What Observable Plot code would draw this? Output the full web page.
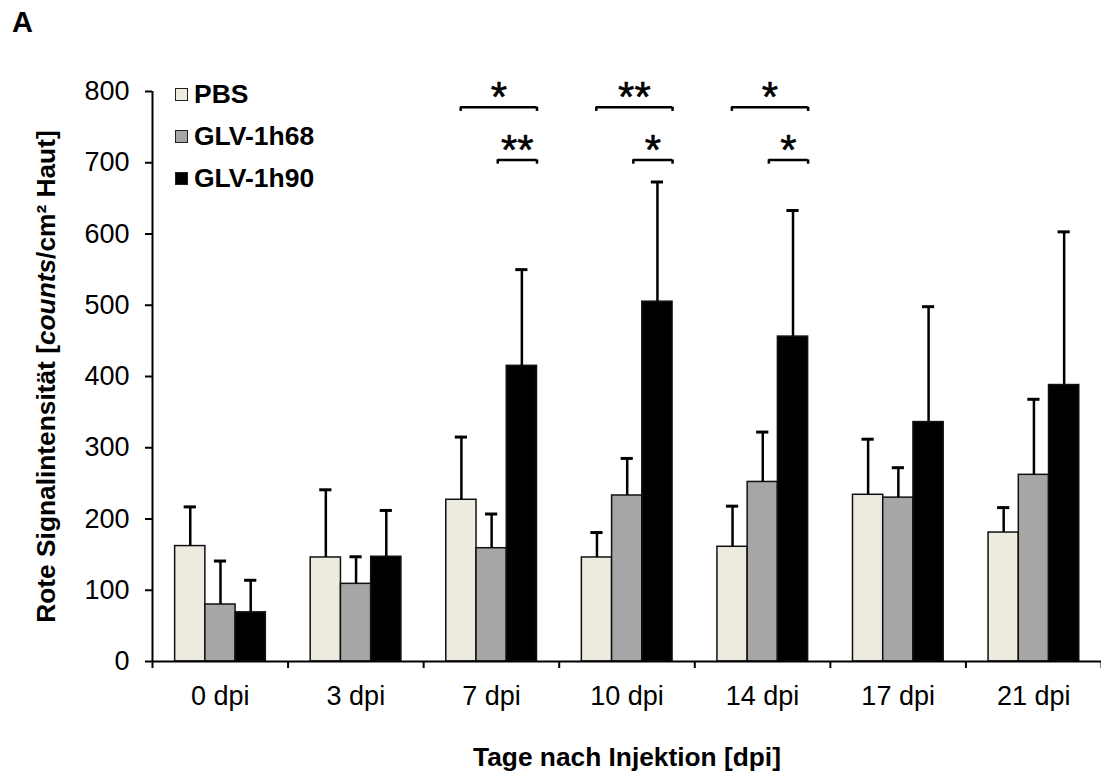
<!DOCTYPE html>
<html>
<head>
<meta charset="utf-8">
<script src="https://cdn.jsdelivr.net/npm/d3@7"></script>
<script src="https://cdn.jsdelivr.net/npm/@observablehq/plot@0.6"></script>
<style>
  html, body { margin: 0; padding: 0; background: #fff; }
  #wrap { position: relative; width: 1101px; height: 772px; font-family: "Liberation Sans", Arial, sans-serif; }
  #wrap svg { position: absolute; left: 0; top: 0; }
  .panel { position: absolute; left: 12px; top: 8px; font-weight: bold; font-size: 29px; line-height: 1; }
  .legend { position: absolute; left: 175px; top: 73px; font-weight: bold; font-size: 26.5px; }
  .legend .item { display: flex; align-items: center; height: 42px; }
  .legend .sw { width: 11px; height: 11px; border: 1.5px solid #222; margin-right: 6px; box-sizing: content-box; }
</style>
</head>
<body>
<div id="wrap"></div>
<script>
// ---- data ----
const days = ["0 dpi", "3 dpi", "7 dpi", "10 dpi", "14 dpi", "17 dpi", "21 dpi"];
const series = ["PBS", "GLV-1h68", "GLV-1h90"];
const colors = ["#EDEBE0", "#A6A6A6", "#000000"];
const pbsMean   = [162, 146, 227, 146, 161, 234, 181];
const pbsSD     = [ 55,  95,  88,  35,  57,  78,  35];
const glv68Mean = [ 80, 109, 159, 233, 252, 230, 262];
const glv68SD   = [ 61,  38,  48,  52,  70,  42, 106];
const glv90Mean = [ 69, 147, 415, 505, 456, 336, 388];
const glv90SD   = [ 45,  65, 135, 168, 177, 162, 215];
const yTicks = [0, 100, 200, 300, 400, 500, 600, 700, 800];
const sigDay   = ["7 dpi", "7 dpi", "10 dpi", "10 dpi", "14 dpi", "14 dpi"];
const sigFrom  = ["PBS", "GLV-1h68", "PBS", "GLV-1h68", "PBS", "GLV-1h68"];
const sigTo    = ["GLV-1h90", "GLV-1h90", "GLV-1h90", "GLV-1h90", "GLV-1h90", "GLV-1h90"];
const sigLabel = ["*", "**", "**", "*", "*", "*"];
const sigLevel = [778, 704, 778, 704, 778, 704];

// ---- build table ----
const means = [pbsMean, glv68Mean, glv90Mean];
const sds = [pbsSD, glv68SD, glv90SD];
const groupStart = 0.167, bw = 0.223;
const rows = [];
days.forEach((d, i) => series.forEach((s, j) => {
  const x1 = i + groupStart + j * bw;
  rows.push({day: d, series: s, x1, x2: x1 + bw, xc: x1 + bw / 2, mean: means[j][i], top: means[j][i] + sds[j][i], fill: colors[j]});
}));
const brackets = sigDay.map((d, k) => {
  const i = days.indexOf(d);
  const f = series.indexOf(sigFrom[k]), t = series.indexOf(sigTo[k]);
  const x1 = i + groupStart + f * bw + bw / 2 + f * 0.05 - 0.005;
  const x2 = i + groupStart + (t + 1) * bw;
  return {x1, x2, xm: (x1 + x2) / 2, y: sigLevel[k], label: sigLabel[k]};
});
const capW = 0.045;

const font = "'Liberation Sans', Arial, sans-serif";
const chart = Plot.plot({
  width: 1101,
  height: 772,
  marginLeft: 152,
  marginRight: 0,
  marginTop: 91,
  marginBottom: 111,
  style: {fontFamily: font, fontSize: "27px", color: "#000", background: "transparent", overflow: "visible"},
  x: {domain: [0, 7]},
  y: {domain: [0, 800]},
  marks: [
    // bars
    Plot.rect(rows, {x1: "x1", x2: "x2", y1: 0, y2: "mean", fill: "fill", stroke: "#111", strokeWidth: 1.5}),
    // error bars
    Plot.ruleX(rows, {x: "xc", y1: "mean", y2: "top", stroke: "#000", strokeWidth: 2.5}),
    Plot.ruleY(rows, {x1: d => d.xc - capW, x2: d => d.xc + capW, y: "top", stroke: "#000", strokeWidth: 3}),
    // significance brackets
    Plot.ruleY(brackets, {x1: "x1", x2: "x2", y: "y", stroke: "#000", strokeWidth: 2.5}),
    Plot.ruleX(brackets, {x: "x1", y1: d => d.y - 6, y2: "y", stroke: "#000", strokeWidth: 2.5}),
    Plot.ruleX(brackets, {x: "x2", y1: d => d.y - 6, y2: "y", stroke: "#000", strokeWidth: 2.5}),
    Plot.text(brackets, {x: "xm", y: "y", text: "label", fontSize: 42, lineAnchor: "bottom", dy: 4,
      fill: "#000", stroke: "#000", strokeWidth: 0.6}),
    // axes
    Plot.ruleY([0], {stroke: "#000", strokeWidth: 2}),
    Plot.ruleX([0], {y1: 0, y2: 800, stroke: "#000", strokeWidth: 2}),
    Plot.axisY({ticks: yTicks, tickSize: 7, tickPadding: 16, strokeWidth: 2, fontSize: 27,
      label: "Rote Signalintensität [counts/cm² Haut]", labelAnchor: "center", labelArrow: "none", labelOffset: 116}),
    Plot.axisX({ticks: d3.range(0, 8), tickSize: 7, strokeWidth: 2, tickFormat: () => "", label: null}),
    Plot.axisX({ticks: days.map((d, i) => i + 0.5), tickSize: 0, tickPadding: 24, fontSize: 27,
      tickFormat: v => days[Math.floor(v)],
      label: "Tage nach Injektion [dpi]", labelAnchor: "center", labelArrow: "none", labelOffset: 104})
  ]
});

const wrap = document.getElementById("wrap");
wrap.appendChild(chart);

// bold axis titles, italic "counts"
d3.select(chart).selectAll('[aria-label="y-axis label"] text, [aria-label="x-axis label"] text')
  .style("font-weight", "bold").style("font-size", "26.3px");
const yl = d3.select(chart).select('[aria-label="y-axis label"] text');
if (!yl.empty()) {
  yl.text(null);
  yl.append("tspan").text("Rote Signalintensität [");
  yl.append("tspan").style("font-style", "italic").text("counts");
  yl.append("tspan").text("/cm² Haut]");
}

// panel letter
const p = document.createElement("div");
p.className = "panel"; p.textContent = "A";
wrap.appendChild(p);

// legend
const lg = document.createElement("div");
lg.className = "legend";
series.forEach((s, j) => {
  const it = document.createElement("div"); it.className = "item";
  const sw = document.createElement("span"); sw.className = "sw"; sw.style.background = colors[j];
  const tx = document.createElement("span"); tx.textContent = s;
  it.appendChild(sw); it.appendChild(tx); lg.appendChild(it);
});
wrap.appendChild(lg);
</script>
</body>
</html>
